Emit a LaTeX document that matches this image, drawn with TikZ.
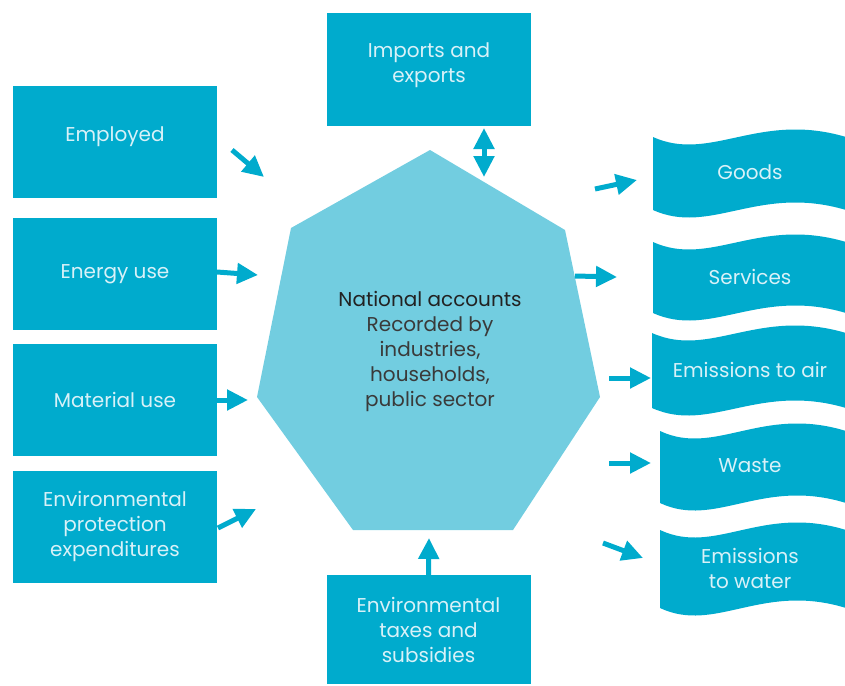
\documentclass[tikz,border=0pt]{standalone}
\usepackage{fontspec}
\setmainfont{Poppins}
\usetikzlibrary{arrows.meta}

\definecolor{boxblue}{HTML}{00ABCD}
\definecolor{hepblue}{HTML}{72CDE0}
\definecolor{boxtext}{HTML}{D8F1F8}
\definecolor{hepdark}{HTML}{222222}
\definecolor{heptext}{HTML}{3A3A3A}

% wavy output box: name, left x, top y, height, text
\newcommand\outflag[5]{%
  \fill[boxblue] (#2,#3)
    .. controls ({#2+0.3*(845-#2)},{#3+26}) and ({#2+0.55*(845-#2)},{#3-26}) .. (846,#3)
    -- (846,{#3+#4})
    .. controls ({#2+0.55*(845-#2)},{#3+#4-26}) and ({#2+0.3*(845-#2)},{#3+#4+26}) .. (#2,{#3+#4})
    -- cycle;
  \node[flagtext] (#1) at (750,{#3+#4/2-1}) {#5};
}

\begin{document}
\begin{tikzpicture}[x=1pt, y=-1pt,
  srcbox/.style={
    fill=boxblue, rectangle,
    minimum width=204pt, minimum height=112pt, inner sep=0pt,
    font=\fontsize{20}{25}\selectfont, text=boxtext, align=center
  },
  flagtext/.style={
    font=\fontsize{20}{25}\selectfont, text=boxtext, align=center
  },
  arr/.style={
    draw=boxblue, line width=5pt,
    -{Triangle[length=21pt,width=20pt]}
  },
]

\useasboundingbox (0,0) rectangle (845,685);

% inputs
\node[srcbox, text depth=15pt] (emp) at (115,142) {Employed};
\node[srcbox] (energy) at (115,274) {Energy use};
\node[srcbox] (mat) at (115,400) {Material use};
\node[srcbox] (envprot) at (115,526.5) {Environmental\\protection\\expenditures};
\node[srcbox, text depth=13pt] (trade) at (429,69.5) {Imports and\\exports};
\node[srcbox, minimum height=109pt] (taxes) at (428.5,629.5) {Environmental\\taxes and\\subsidies};

% national accounts
\fill[hepblue] (430,150) -- (565,230) -- (600,397) -- (513,530)
  -- (353,530) -- (257,397) -- (291,228) -- cycle;
\node[align=center, font=\fontsize{20}{25}\selectfont, text=heptext] (nat) at (430,351) {
  {\color{hepdark}National accounts}\\
  Recorded by\\industries,\\households,\\public sector
};

% outputs
\outflag{goods}{653}{137}{73}{Goods}
\outflag{serv}{653}{242}{71}{Services}
\outflag{air}{652}{333}{75}{Emissions to air}
\outflag{waste}{660}{431}{72}{Waste}
\outflag{water}{660}{530}{78}{Emissions\\to water}

% arrow ends
\coordinate (emp-a) at (232,150);    \coordinate (emp-b) at (264,177);
\coordinate (energy-a) at (217,272); \coordinate (energy-b) at (258,275);
\coordinate (mat-a) at (217,400);    \coordinate (mat-b) at (248,400);
\coordinate (envprot-a) at (218,528); \coordinate (envprot-b) at (256,509);
\coordinate (trade-a) at (484,128);  \coordinate (trade-b) at (484,177);
\coordinate (taxes-b) at (429,538);
\coordinate (goods-a) at (595,189);  \coordinate (goods-b) at (637,180);
\coordinate (serv-a) at (575,276);   \coordinate (serv-b) at (617,277);
\coordinate (air-a) at (609,378);    \coordinate (air-b) at (651,378);
\coordinate (waste-a) at (609,463);  \coordinate (waste-b) at (651,463);
\coordinate (water-a) at (603,543);  \coordinate (water-b) at (643,558);

\draw[arr] (emp-a) -- (emp-b);
\draw[arr] (energy-a) -- (energy-b);
\draw[arr] (mat-a) -- (mat-b);
\draw[arr] (envprot-a) -- (envprot-b);
\draw[arr, {Triangle[length=21pt,width=20pt]}-{Triangle[length=21pt,width=20pt]}] (trade-a) -- (trade-b);
\draw[arr] (taxes.north) -- (taxes-b);
\draw[arr] (goods-a) -- (goods-b);
\draw[arr] (serv-a) -- (serv-b);
\draw[arr] (air-a) -- (air-b);
\draw[arr] (waste-a) -- (waste-b);
\draw[arr] (water-a) -- (water-b);

\end{tikzpicture}
\end{document}
